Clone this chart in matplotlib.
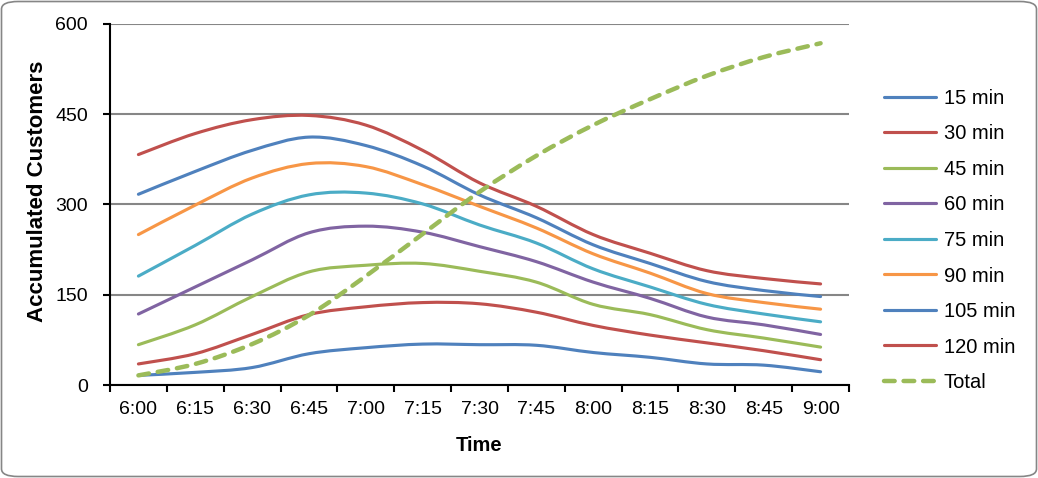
import numpy as np
import matplotlib
matplotlib.use('Agg')
from matplotlib import pyplot as plt
from matplotlib.path import Path
from matplotlib.patches import PathPatch, FancyBboxPatch
from matplotlib.lines import Line2D

plt.rcParams['font.family'] = ['Liberation Sans', 'DejaVu Sans']

# data
times = ['6:00', '6:15', '6:30', '6:45', '7:00', '7:15', '7:30',
         '7:45', '8:00', '8:15', '8:30', '8:45', '9:00']
labels = ['15 min', '30 min', '45 min', '60 min', '75 min', '90 min',
          '105 min', '120 min', 'Total']
min15 = [16, 21, 29, 52, 62, 68, 67, 66, 54, 46, 35, 33, 22]
min30 = [35, 52, 84, 117, 130, 137, 135, 121, 99, 83, 70, 57, 42]
min45 = [67, 100, 147, 188, 199, 202, 189, 171, 134, 117, 92, 78, 63]
min60 = [118, 163, 208, 253, 264, 254, 230, 205, 171, 144, 113, 100, 84]
min75 = [181, 232, 284, 316, 319, 301, 266, 236, 193, 163, 134, 118, 105]
min90 = [250, 299, 344, 368, 363, 333, 297, 261, 218, 186, 152, 137, 126]
min105 = [317, 355, 390, 412, 398, 364, 316, 278, 233, 202, 172, 157, 147]
min120 = [383, 418, 441, 448, 432, 390, 336, 297, 250, 219, 190, 177, 168]
total = [16, 35, 68, 116, 181, 251, 321, 381, 432, 475, 514, 545, 568]

series = [min15, min30, min45, min60, min75, min90, min105, min120, total]
colors = ['#4F81BD', '#C0504D', '#9BBB59', '#8064A2', '#4BACC6', '#F79646',
          '#4F81BD', '#C0504D', '#9BBB59']


def smooth_path(xs, ys):
    # bezier segments like excel's "smoothed line"
    pts = np.column_stack([xs, ys]).astype(float)
    n = len(pts)
    verts = [pts[0]]
    codes = [Path.MOVETO]
    for i in range(n - 1):
        p0 = pts[max(i - 1, 0)]
        p1 = pts[i]
        p2 = pts[i + 1]
        p3 = pts[min(i + 2, n - 1)]
        verts += [p1 + (p2 - p0) / 6, p2 - (p3 - p1) / 6, p2]
        codes += [Path.CURVE4] * 3
    return Path(verts, codes)


fig = plt.figure(figsize=(10.38, 4.78), dpi=100)
ax = fig.add_axes([110 / 1038, 1 - 385 / 478, 739 / 1038, 361 / 478])

# rounded chart border
border = FancyBboxPatch((1.5 / 1038, 1.5 / 478), 1035 / 1038, 475 / 478,
                        boxstyle='round,pad=0,rounding_size=0.016',
                        transform=fig.transFigure, facecolor='none',
                        edgecolor='#868686', lw=1.2)
fig.patches.append(border)

x = np.arange(len(times))
handles = []
for vals, c, lab in zip(series, colors, labels):
    if lab == 'Total':
        ls = (0, (2.4, 2.0))
        lw = 3.2
    else:
        ls = '-'
        lw = 2.25
    patch = PathPatch(smooth_path(x, vals), fill=False, edgecolor=c, lw=lw,
                      linestyle=ls, capstyle='round', joinstyle='round', zorder=3)
    ax.add_patch(patch)
    handles.append(Line2D([], [], color=c, lw=lw, linestyle=ls,
                          solid_capstyle='round', dash_capstyle='round'))

ax.set_xlim(-0.5, len(times) - 0.5)
ax.set_ylim(0, 600)
ax.set_yticks([0, 150, 300, 450, 600])
ax.set_xticks(np.arange(-0.5, len(times)), [''] * (len(times) + 1))
ax.set_xticks(x, times, minor=True)
ax.tick_params(axis='x', which='minor', length=0, pad=11.5, labelsize=14)
ax.tick_params(axis='x', which='major', length=5, width=1.5, direction='out')
ax.tick_params(axis='y', length=5, width=1.5, direction='out', labelsize=14, pad=11)

ax.grid(axis='y', color='#868686', lw=1.5, zorder=0)
ax.set_axisbelow(True)
for s in ['top', 'right']:
    ax.spines[s].set_visible(False)
for s in ['left', 'bottom']:
    ax.spines[s].set_linewidth(1.5)
    ax.spines[s].set_zorder(4)

ax.set_xlabel('Time', fontsize=14.5, fontweight='bold')
ax.set_ylabel('Accumulated Customers', fontsize=16, fontweight='bold')
ax.xaxis.set_label_coords(0.5, -0.140)
ax.yaxis.set_label_coords(-0.084, 0.537)

fig.legend(handles, labels, loc='center left', bbox_to_anchor=(874 / 1038, 1 - 240.5 / 478),
           frameon=False, fontsize=14.5, handlelength=2.6, handletextpad=0.37,
           labelspacing=0.82, borderpad=0)

fig.savefig('out.png', dpi=100)
